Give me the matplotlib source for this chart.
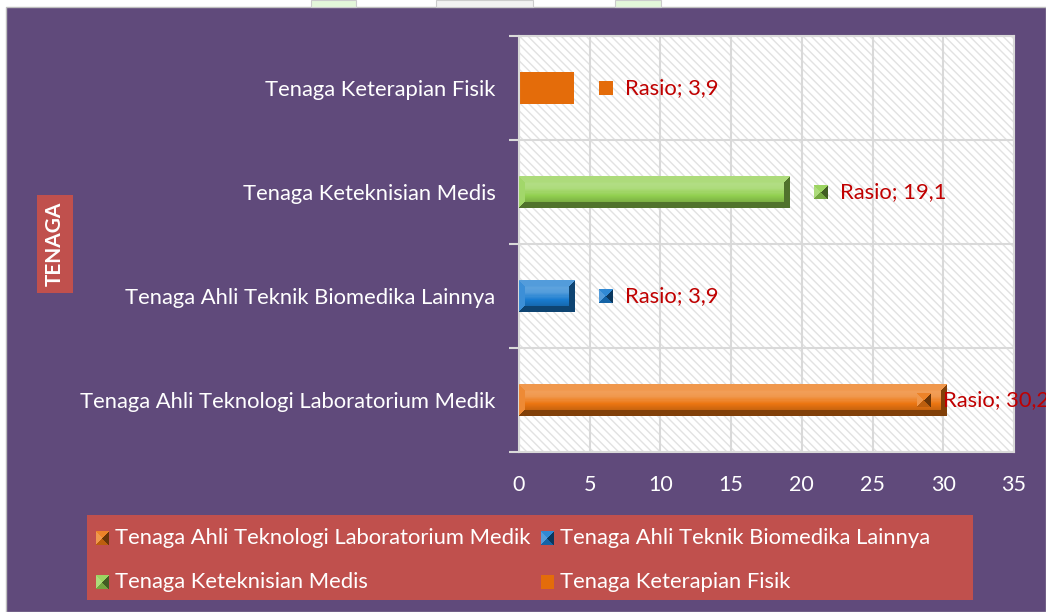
import numpy as np
import matplotlib
matplotlib.use("Agg")
import matplotlib.pyplot as plt
from matplotlib.patches import Rectangle
from matplotlib.colors import to_rgb

# ---------------- data ----------------
categories = ["Tenaga Ahli Teknologi Laboratorium Medik",
              "Tenaga Ahli Teknik Biomedika Lainnya",
              "Tenaga Keteknisian Medis",
              "Tenaga Keterapian Fisik"]
values = [30.2, 3.9, 19.1, 3.9]
label_texts = ["Rasio; 30,2", "Rasio; 3,9", "Rasio; 19,1", "Rasio; 3,9"]
series_colors = ["#EC7612", "#1A7CD0", "#92D050", "#E46C0A"]
beveled = [True, True, True, False]
x_ticks = [0, 5, 10, 15, 20, 25, 30, 35]
axis_title = "TENAGA"
legend_order = [0, 1, 2, 3]

# ---------------- style ----------------
PURPLE = "#604A7B"
RED_BOX = "#C0504D"
LABEL_RED = "#C00000"
GRID = "#D9D9D9"
FONT = "Lato"
FS = 15.8
W, H = 1046, 612
plt.rcParams["font.family"] = [FONT, "DejaVu Sans"]
plt.rcParams["hatch.linewidth"] = 1.0


def shade(c, f):
    c = np.asarray(c)[None, None, :]
    f = f[..., None]
    return np.where(f > 0, c + (1 - c) * f, c * (1 + f))


def bevel_image(w, h, color, bevel, edges=(0.3, -0.4, -0.4, 0.1)):
    c = np.array(to_rgb(color))
    yy, xx = np.mgrid[0:h, 0:w] + 0.5
    d = np.stack([yy, w - xx, h - yy, xx])  # top, right, bottom, left
    idx = np.argmin(d, axis=0)
    m = np.min(d, axis=0)
    t = yy / h
    face = np.interp(t, [0, 0.25, 0.4, 0.6, 0.8, 1.0], [0.1, 0.3, 0.25, 0.0, -0.15, -0.3])
    edge_f = np.array(edges)[idx]
    f = np.where(m < bevel, edge_f, face)
    return np.clip(shade(c, f), 0, 1)


fig = plt.figure(figsize=(W / 100, H / 100), dpi=100)
fig.patch.set_facecolor("white")

back = fig.add_axes([0, 0, 1, 1], zorder=0)
back.set_xlim(0, W)
back.set_ylim(H, 0)
back.axis("off")
back.add_patch(Rectangle((6, 7), W - 6, H - 7, facecolor=PURPLE,
                         edgecolor="#BFBFBF", lw=1))
# faint header decorations
for x0, x1, fc in [(311, 356, "#E4F7DA"), (436, 533, "#F2F2F2"), (615, 661, "#E4F7DA")]:
    back.add_patch(Rectangle((x0, 0), x1 - x0, 7, facecolor=fc, edgecolor="#CCCCCC", lw=0.8))

# ---------------- main axes ----------------
ax_l, ax_r, ax_t, ax_b = 519, 1014, 36, 452
ax = fig.add_axes([ax_l / W, 1 - ax_b / H, (ax_r - ax_l) / W, (ax_b - ax_t) / H], zorder=1)
ax.set_facecolor("white")
ax.add_patch(Rectangle((0, 0), 1, 1, transform=ax.transAxes, facecolor="white",
                       edgecolor="#E2E2E2", hatch="\\\\\\\\", lw=0, zorder=0.1))
ypos = np.arange(len(categories))
bar_h = 0.3
ax.set_xlim(0, 35)
ax.set_ylim(-0.5, len(categories) - 0.5)
ax.set_autoscale_on(False)
ax.barh(ypos, values, height=bar_h, color=series_colors, zorder=2, lw=0)

px_per_x = (ax_r - ax_l) / 35
px_per_y = (ax_b - ax_t) / len(categories)
for i, v in enumerate(values):
    if beveled[i]:
        wpx = max(int(round(v * px_per_x)), 2)
        hpx = int(round(bar_h * px_per_y))
        img = bevel_image(wpx, hpx, series_colors[i], 6, edges=(0.25, -0.45, -0.45, 0.15))
        ax.imshow(img, extent=(0, v, ypos[i] - bar_h / 2, ypos[i] + bar_h / 2),
                  aspect="auto", origin="upper", zorder=3, interpolation="nearest")
ax.set_xlim(0, 35)
ax.set_ylim(-0.5, len(categories) - 0.5)

ax.set_xticks(x_ticks)
ax.set_xticklabels([str(t) for t in x_ticks])
ax.set_yticks(ypos)
ax.set_yticklabels(categories)
ax.set_yticks(np.arange(-0.5, len(categories)), minor=True)
ax.tick_params(axis="x", length=0, colors="white", labelsize=15.5, pad=16.5)
ax.tick_params(axis="y", which="major", length=0, colors="white", labelsize=FS, pad=17)
ax.tick_params(axis="y", which="minor", length=7, width=1.5, color=GRID, direction="out")
ax.set_axisbelow(True)
ax.grid(axis="x", which="major", color=GRID, lw=1.5, zorder=0.5)
ax.grid(axis="y", which="minor", color=GRID, lw=1.5, zorder=0.5)
for s in ax.spines.values():
    s.set_color(GRID)
    s.set_linewidth(1.5)

# ---------------- front overlay ----------------
front = fig.add_axes([0, 0, 1, 1], zorder=5)
front.set_xlim(0, W)
front.set_ylim(H, 0)
front.axis("off")
front.patch.set_alpha(0)


def draw_marker(axo, x, y, w, h, color, bev):
    if bev:
        img = bevel_image(w, h, color, max(w, h), edges=(0.1, -0.55, -0.2, 0.25))
        axo.imshow(img, extent=(x, x + w, y + h, y), aspect="auto", origin="upper",
                   interpolation="nearest", zorder=6)
    else:
        axo.add_patch(Rectangle((x, y), w, h, facecolor=color, lw=0, zorder=6))


fig.canvas.draw()
for i, v in enumerate(values):
    ex, ey = ax.transData.transform((v, ypos[i]))
    ey = H - ey
    tx = min(ex + 51, 943)
    mx = tx - 26
    draw_marker(front, mx, ey - 7, 14, 14, series_colors[i], beveled[i])
    front.text(tx, ey, label_texts[i], color=LABEL_RED, fontsize=15.8,
               va="center", ha="left", zorder=7, clip_on=False)

# axis title box
back.add_patch(Rectangle((37, 195), 36, 98, facecolor=RED_BOX, lw=0))
back.text(55, 244, axis_title, rotation=90, color="white", fontsize=15,
          fontweight="bold", ha="center", va="center")

# legend box
back.add_patch(Rectangle((87, 515), 886, 85, facecolor=RED_BOX, lw=0))
leg_pos = [(96, 538), (541, 538), (96, 582), (541, 582)]
for k, i in enumerate(legend_order):
    lx, ly = leg_pos[k]
    draw_marker(front, lx, ly - 7, 13, 14, series_colors[i], beveled[i])
    front.text(lx + 19, ly, categories[i], color="white", fontsize=FS,
               va="center", ha="left", zorder=7)

fig.savefig("out.png", dpi=100, facecolor=fig.get_facecolor())
